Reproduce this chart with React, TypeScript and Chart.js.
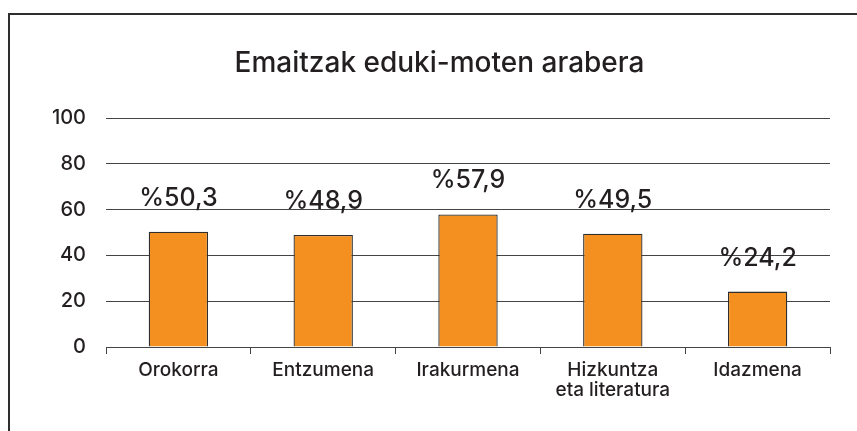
import React, { useEffect, useRef } from "react";
import { Chart, registerables } from "chart.js";

Chart.register(...registerables);

const categories: (string | string[])[] = [
  "Orokorra",
  "Entzumena",
  "Irakurmena",
  ["Hizkuntza", "eta literatura"],
  "Idazmena",
];
const values: number[] = [50.3, 48.9, 57.9, 49.5, 24.2];
const valueLabels: string[] = ["%50,3", "%48,9", "%57,9", "%49,5", "%24,2"];
const yTicks: number[] = [0, 20, 40, 60, 80, 100];
const titleText = "Emaitzak eduki-moten arabera";

const FONT = "Inter, 'Open Sans', sans-serif";
const INK = "#231f20";

const overlayPlugin = {
  id: "overlayText",
  afterDraw(chart: any) {
    const ctx = chart.ctx;
    ctx.save();
    ctx.fillStyle = INK;
    ctx.textAlign = "center";
    ctx.textBaseline = "alphabetic";
    ctx.font = `500 28px ${FONT}`;
    ctx.fillText(titleText, chart.width / 2, 57);
    ctx.font = `500 25px ${FONT}`;
    const meta = chart.getDatasetMeta(0);
    meta.data.forEach((bar: any, i: number) => {
      ctx.fillText(valueLabels[i], bar.x, bar.y - 26);
    });
    ctx.restore();
  },
};

export default function App() {
  const ref = useRef<HTMLCanvasElement | null>(null);
  useEffect(() => {
    if (!ref.current) return;
    const chart = new Chart(ref.current, {
      type: "bar",
      data: {
        labels: categories,
        datasets: [
          {
            data: values,
            backgroundColor: "#f39020",
            borderColor: "#2e2e2e",
            borderWidth: 1.3,
            barPercentage: 0.41,
            categoryPercentage: 1,
          },
        ],
      },
      options: {
        animation: false,
        responsive: false,
        maintainAspectRatio: false,
        layout: { padding: { left: 0, right: 39, top: 103, bottom: 0 } },
        plugins: {
          legend: { display: false },
          tooltip: { enabled: false },
          title: { display: false },
        },
        scales: {
          x: {
            offset: true,
            grid: {
              display: true,
              drawOnChartArea: false,
              drawTicks: true,
              tickLength: 7,
              color: "#444",
            },
            border: { display: true, color: "#444", width: 1 },
            ticks: {
              color: INK,
              font: { family: FONT, size: 19, weight: "500", lineHeight: 1.05 },
              padding: 6,
              maxRotation: 0,
              autoSkip: false,
            },
            afterFit(scale: any) {
              scale.height = 84;
            },
          },
          y: {
            min: 0,
            max: 100,
            afterBuildTicks(scale: any) {
              scale.ticks = yTicks.map((v) => ({ value: v }));
            },
            grid: { color: "#444", drawTicks: false, lineWidth: 1 },
            border: { display: false },
            ticks: {
              color: INK,
              font: { family: FONT, size: 20, weight: "500" },
              padding: 20,
            },
            afterFit(scale: any) {
              scale.width = 96;
            },
          },
        },
      },
      plugins: [overlayPlugin],
    });
    return () => chart.destroy();
  }, []);

  return (
    <div
      style={{
        position: "absolute",
        left: 8,
        top: 13,
        width: 849,
        height: 418,
        borderLeft: "2px solid #2e2e2e",
        borderTop: "2px solid #2e2e2e",
        overflow: "hidden",
        background: "#fff",
      }}
    >
      <canvas ref={ref} width={859} height={416} style={{ display: "block" }} />
    </div>
  );
}
